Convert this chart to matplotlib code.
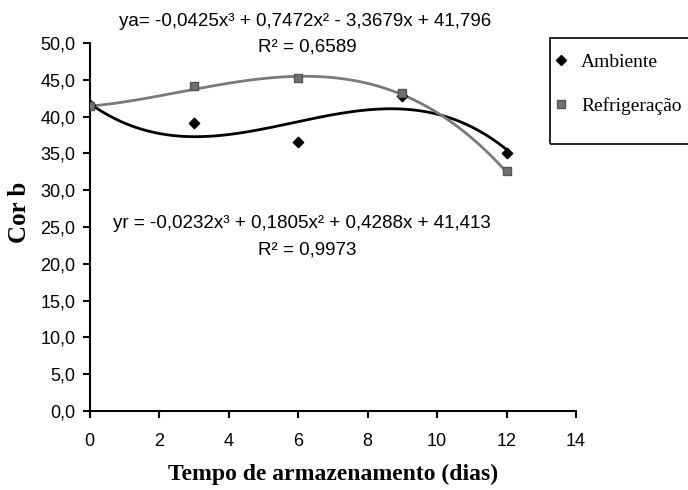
import numpy as np
import matplotlib
matplotlib.use("Agg")
import matplotlib.pyplot as plt
from matplotlib.lines import Line2D
from matplotlib.patches import Rectangle

# dados
dias = [0, 3, 6, 9, 12]
ambiente = [41.6, 39.1, 36.5, 42.8, 35.0]
refrigeracao = [41.5, 44.2, 45.3, 43.2, 32.6]

# coeficientes das linhas de tendencia (polinomio de 3o grau)
coef_amb = [-0.0425, 0.7472, -3.3679, 41.796]
coef_ref = [-0.0232, 0.1805, 0.4288, 41.413]
eq_amb = "ya= -0,0425x³ + 0,7472x² - 3,3679x + 41,796"
r2_amb = "R² = 0,6589"
eq_ref = "yr = -0,0232x³ + 0,1805x² + 0,4288x + 41,413"
r2_ref = "R² = 0,9973"

yticks = np.arange(0, 51, 5)
xticks = np.arange(0, 15, 2)

sans = "Liberation Sans"
serif = "Liberation Serif"
W, H = 688, 490

fig = plt.figure(figsize=(6.88, 4.90), dpi=100)
ax = fig.add_axes([89.5 / W, 1 - 411 / H, (576 - 89.5) / W, (411 - 43) / H])

xs = np.linspace(0, 12, 200)
ax.plot(xs, np.polyval(coef_amb, xs), color="black", lw=2, zorder=2)
ax.plot(xs, np.polyval(coef_ref, xs), color="#7a7a7a", lw=2, zorder=3)
ax.scatter(dias, ambiente, marker="D", s=28, color="black", zorder=4)
ax.scatter(dias, refrigeracao, marker="s", s=40, color="#707070",
           edgecolor="#555555", zorder=5)

ax.set_xlim(0, 14)
ax.set_ylim(0, 50)
ax.set_xticks(xticks)
ax.set_yticks(yticks)
ax.set_yticklabels([f"{v:.1f}".replace(".", ",") for v in yticks])
for s in ["top", "right"]:
    ax.spines[s].set_visible(False)
for s in ["left", "bottom"]:
    ax.spines[s].set_linewidth(1.5)
ax.tick_params(direction="out", length=5, width=1.5, labelsize=13, pad=5)
for lab in ax.get_xticklabels() + ax.get_yticklabels():
    lab.set_family(sans)
ax.tick_params(axis="x", pad=11)

ax.set_xlabel("Tempo de armazenamento (dias)", family=serif, fontweight="bold",
              fontsize=17, labelpad=10)
ax.set_ylabel("Cor b", family=serif, fontweight="bold", fontsize=18)
ax.yaxis.set_label_coords(-0.12, 0.54)

fig.text(305 / W, 1 - 22 / H, eq_amb, ha="center", va="center",
         family=sans, fontsize=13.5)
fig.text(307 / W, 1 - 47 / H, r2_amb, ha="center", va="center",
         family=sans, fontsize=13.5)
fig.text(302 / W, 1 - 223 / H, eq_ref, ha="center", va="center",
         family=sans, fontsize=13.5)
fig.text(307 / W, 1 - 250 / H, r2_ref, ha="center", va="center",
         family=sans, fontsize=13.5)

# moldura da legenda (passa da borda direita, como no original)
fig.patches.append(Rectangle((550 / W, 1 - 144 / H), 160 / W, 106 / H,
                             transform=fig.transFigure, fill=False,
                             edgecolor="black", lw=1.2))
handles = [
    Line2D([], [], ls="none", marker="D", markersize=5, color="black", label="Ambiente"),
    Line2D([], [], ls="none", marker="s", markersize=6, color="#707070",
           markeredgecolor="#555555", label="Refrigeração"),
]
fig.legend(handles=handles, loc="upper left", bbox_to_anchor=(555 / W, 1 - 53 / H),
           prop={"family": serif, "size": 14}, frameon=False,
           borderpad=0, labelspacing=1.35, handlelength=0.6, handletextpad=0.75,
           borderaxespad=0)

fig.savefig("out.png", dpi=100)
